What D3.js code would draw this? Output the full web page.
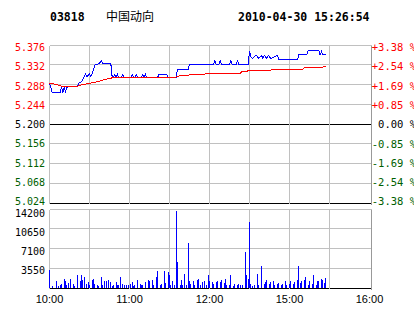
<!DOCTYPE html>
<html>
<head>
<meta charset="utf-8">
<script src="https://cdn.jsdelivr.net/npm/d3@7"></script>
<style>
body { margin: 0; background: #fff; }
</style>
</head>
<body>
<div id="wrapper"></div>
<script>
// header
const stockCode = "03818";
const stockName = "中国动向";
const stamp = "2010-04-30 15:26:54";

// axes
const preClose = 5.200;
const priceTicks = [5.376, 5.332, 5.288, 5.244, 5.200, 5.156, 5.112, 5.068, 5.024];
const pctTicks = ["+3.38 %", "+2.54 %", "+1.69 %", "+0.85 %", "0.00 %", "-0.85 %", "-1.69 %", "-2.54 %", "-3.38 %"];
const volTicks = [14200, 10650, 7100, 3550];
const timeTicks = [0, 60, 120, 180, 240];
const timeLabels = ["10:00", "11:00", "12:00", "15:00", "16:00"];
const gridMinutes = [30, 60, 90, 120, 150, 180, 210];

// [minute since 10:00 (trading minutes), price]
const priceData = [
  [0, 5.291], [2, 5.271], [8, 5.271], [9, 5.281], [10, 5.271], [11, 5.281], [12, 5.273],
  [13, 5.281], [14, 5.283], [21, 5.283], [22, 5.291], [24, 5.294], [27, 5.311], [28, 5.305],
  [30, 5.311], [31, 5.305], [32, 5.313], [34, 5.331], [37, 5.334], [39, 5.341], [40, 5.334],
  [46, 5.334], [47, 5.305], [48, 5.304], [49, 5.310], [50, 5.304], [51, 5.310], [52, 5.304],
  [54, 5.304], [55, 5.310], [56, 5.304], [61, 5.304], [62, 5.310], [63, 5.304], [64, 5.304],
  [65, 5.310], [66, 5.304], [69, 5.304], [70, 5.310], [71, 5.304], [72, 5.310], [73, 5.304],
  [74, 5.303], [81, 5.303], [82, 5.310], [88, 5.310], [89, 5.303], [95, 5.303], [96, 5.322],
  [104, 5.322], [105, 5.333], [123, 5.333], [124, 5.342], [125, 5.333], [127, 5.333],
  [128, 5.342], [129, 5.333], [135, 5.333], [136, 5.342], [137, 5.333], [140, 5.333],
  [141, 5.340], [142, 5.333], [149, 5.333], [150, 5.362], [151, 5.350], [152, 5.346],
  [155, 5.353], [157, 5.346], [159, 5.353], [160, 5.346], [161, 5.353], [163, 5.346],
  [164, 5.353], [166, 5.346], [171, 5.353], [172, 5.343], [186, 5.343], [187, 5.354],
  [193, 5.354], [194, 5.363], [202, 5.363], [203, 5.354], [204, 5.362], [205, 5.354], [207, 5.354]
];

const avgData = [
  [0, 5.291], [5, 5.288], [9, 5.284], [21, 5.284], [22, 5.286], [27, 5.289], [32, 5.292],
  [37, 5.295], [40, 5.298], [46, 5.302], [48, 5.304], [94, 5.304], [97, 5.307], [104, 5.309],
  [114, 5.311], [127, 5.313], [143, 5.313], [144, 5.316], [148, 5.316], [149, 5.320],
  [166, 5.320], [167, 5.322], [190, 5.322], [191, 5.325], [204, 5.325], [205, 5.327], [207, 5.327]
];

const volData = [
  [0, 3300], [2, 420], [5, 1320], [7, 420], [8, 600], [9, 720], [11, 1680], [12, 1320], [13, 600],
  [14, 900], [16, 1680], [18, 720], [19, 420], [21, 2400], [23, 1200], [24, 2400], [25, 1500],
  [26, 1920], [28, 720], [29, 1020], [30, 600], [32, 1500], [33, 1680], [34, 720], [36, 600],
  [37, 420], [39, 1920], [40, 600], [41, 1320], [43, 1200], [44, 1500], [46, 1020], [47, 420],
  [48, 600], [50, 1020], [51, 600], [52, 600], [53, 2040], [55, 720], [56, 600], [58, 600],
  [59, 600], [61, 720], [62, 1020], [63, 420], [64, 600], [66, 1500], [68, 720], [69, 600],
  [70, 600], [72, 1020], [74, 1500], [75, 1200], [77, 1500], [78, 600], [80, 2040], [81, 3120],
  [83, 600], [84, 720], [86, 3120], [87, 900], [89, 2820], [90, 2400], [91, 600], [92, 1200],
  [94, 600], [95, 13900], [96, 4740], [98, 600], [99, 1380], [100, 600], [101, 2580], [103, 600],
  [104, 8030], [105, 1200], [106, 720], [108, 1200], [109, 600], [111, 1380], [112, 1680],
  [113, 600], [115, 1020], [116, 1200], [118, 600], [119, 2400], [120, 1200], [122, 1020],
  [123, 720], [125, 1020], [126, 1320], [128, 1020], [129, 1500], [131, 900], [132, 1680],
  [133, 600], [135, 600], [136, 2400], [138, 420], [139, 720], [141, 600], [142, 720], [143, 600],
  [145, 600], [147, 6400], [148, 2400], [149, 1680], [150, 11800], [151, 720], [152, 420],
  [154, 600], [156, 2580], [157, 600], [159, 4020], [161, 720], [162, 1020], [163, 1500],
  [165, 720], [166, 1020], [168, 1320], [169, 600], [171, 720], [172, 900], [174, 600],
  [175, 720], [177, 1320], [178, 600], [180, 720], [181, 1200], [183, 720], [184, 1020],
  [186, 1500], [187, 4020], [188, 900], [189, 1320], [191, 1500], [192, 1920], [194, 600],
  [195, 1200], [197, 720], [198, 2400], [200, 600], [201, 1320], [202, 1200], [204, 1680],
  [205, 1500], [206, 900], [207, 1800]
];

const width = 414, height = 314;
const gridColor = "#c0c0c0";
const red = "#ff0000", green = "#006000";
const monoFont = "'DejaVu Sans Mono', monospace";

const svg = d3.select("#wrapper")
  .append("svg")
  .attr("width", width)
  .attr("height", height)
  .style("display", "block");

svg.append("rect").attr("width", width).attr("height", height).attr("fill", "#fff");

const xScale = d3.scaleLinear().domain([0, 240]).range([49.5, 369.5]);
const yPrice = d3.scaleLinear().domain([5.024, 5.376]).range([203, 45]);
const yVol = d3.scaleLinear().domain([0, 14200]).range([288, 209]);
// label rows sit on a slightly tighter pitch than the grid
const yPriceLabel = d3.scaleLinear().domain([5.024, 5.376]).range([201.7, 47.3]);
const yVolLabel = d3.scaleLinear().domain([0, 14200]).range([289, 213.3]);

const crisp = v => Math.floor(v) + 0.5;
const left = 49.5, right = 371.5;

const grid = svg.append("g").attr("shape-rendering", "crispEdges");

// price panel horizontal lines
grid.selectAll(".ph")
  .data(priceTicks)
  .enter()
  .append("line")
  .attr("x1", left).attr("x2", right)
  .attr("y1", d => crisp(yPrice(d))).attr("y2", d => crisp(yPrice(d)))
  .attr("stroke", (d, i) => (d === preClose || i === priceTicks.length - 1) ? "#000" : gridColor);

// volume panel horizontal lines
grid.selectAll(".vh")
  .data(volTicks.concat([0]))
  .enter()
  .append("line")
  .attr("x1", left).attr("x2", right)
  .attr("y1", d => crisp(yVol(d))).attr("y2", d => crisp(yVol(d)))
  .attr("stroke", d => d === 0 ? "#000" : gridColor);

// vertical grid lines in both panels
[[yPrice(5.376), yPrice(5.024)], [yVol(14200), yVol(0)]].forEach(([y1, y2]) => {
  grid.selectAll(null)
    .data(gridMinutes)
    .enter()
    .append("line")
    .attr("x1", d => crisp(xScale(d))).attr("x2", d => crisp(xScale(d)))
    .attr("y1", crisp(y1)).attr("y2", crisp(y2))
    .attr("stroke", gridColor);
  grid.append("line")
    .attr("x1", left).attr("x2", left)
    .attr("y1", crisp(y1)).attr("y2", crisp(y2))
    .attr("stroke", gridColor);
  grid.append("line")
    .attr("x1", right).attr("x2", right)
    .attr("y1", crisp(y1)).attr("y2", crisp(y2) + 1)
    .attr("stroke", "#999");
});

// volume bars
svg.append("g")
  .attr("shape-rendering", "crispEdges")
  .selectAll("rect")
  .data(volData)
  .enter()
  .append("rect")
  .attr("x", d => Math.floor(xScale(d[0])))
  .attr("width", 1)
  .attr("y", d => yVol(d[1]))
  .attr("height", d => yVol(0) - yVol(d[1]))
  .attr("fill", "#0000ff");

// price + average lines
const line = d3.line()
  .x(d => xScale(d[0]))
  .y(d => yPrice(d[1]));

svg.append("path")
  .datum(priceData)
  .attr("d", line)
  .attr("fill", "none")
  .attr("stroke", "#0000ff")
  .attr("stroke-width", 1)
  .attr("shape-rendering", "crispEdges");

svg.append("path")
  .datum(avgData)
  .attr("d", line)
  .attr("fill", "none")
  .attr("stroke", red)
  .attr("stroke-width", 1)
  .attr("shape-rendering", "crispEdges");

const tickColor = v => v > preClose ? red : (v < preClose ? green : "#000");

// left price labels
svg.append("g")
  .selectAll("text")
  .data(priceTicks)
  .enter()
  .append("text")
  .attr("x", 45)
  .attr("y", d => yPriceLabel(d))
  .attr("dy", "0.36em")
  .attr("text-anchor", "end")
  .attr("font-family", monoFont)
  .attr("font-size", "10px")
  .attr("fill", tickColor)
  .text(d => d.toFixed(3));

// right percent labels
svg.append("g")
  .selectAll("text")
  .data(pctTicks)
  .enter()
  .append("text")
  .attr("x", 416)
  .attr("y", (d, i) => yPriceLabel(priceTicks[i]))
  .attr("dy", "0.36em")
  .attr("text-anchor", "end")
  .attr("font-family", monoFont)
  .attr("font-size", "10.5px")
  .attr("fill", (d, i) => tickColor(priceTicks[i]))
  .text(d => d);

// volume labels
svg.append("g")
  .selectAll("text")
  .data(volTicks)
  .enter()
  .append("text")
  .attr("x", 45)
  .attr("y", d => yVolLabel(d))
  .attr("dy", "0.36em")
  .attr("text-anchor", "end")
  .attr("font-family", monoFont)
  .attr("font-size", "10px")
  .attr("fill", "#000")
  .text(d => d);

// time labels
svg.append("g")
  .selectAll("text")
  .data(timeTicks)
  .enter()
  .append("text")
  .attr("x", d => xScale(d))
  .attr("y", 302.5)
  .attr("text-anchor", "middle")
  .attr("font-family", "'Liberation Sans', Arial, sans-serif")
  .attr("font-size", "11px")
  .attr("fill", "#000")
  .text((d, i) => timeLabels[i]);

// header
svg.append("text")
  .attr("x", 50).attr("y", 21)
  .attr("font-family", monoFont)
  .attr("font-weight", "bold")
  .attr("font-size", "11.5px")
  .text(stockCode);

svg.append("text")
  .attr("x", 106).attr("y", 20.5)
  .attr("font-family", "'Noto Sans CJK SC', sans-serif")
  .attr("font-size", "12px")
  .text(stockName);

svg.append("text")
  .attr("x", 238).attr("y", 21)
  .attr("font-family", monoFont)
  .attr("font-weight", "bold")
  .attr("font-size", "11.5px")
  .text(stamp);
</script>
</body>
</html>
